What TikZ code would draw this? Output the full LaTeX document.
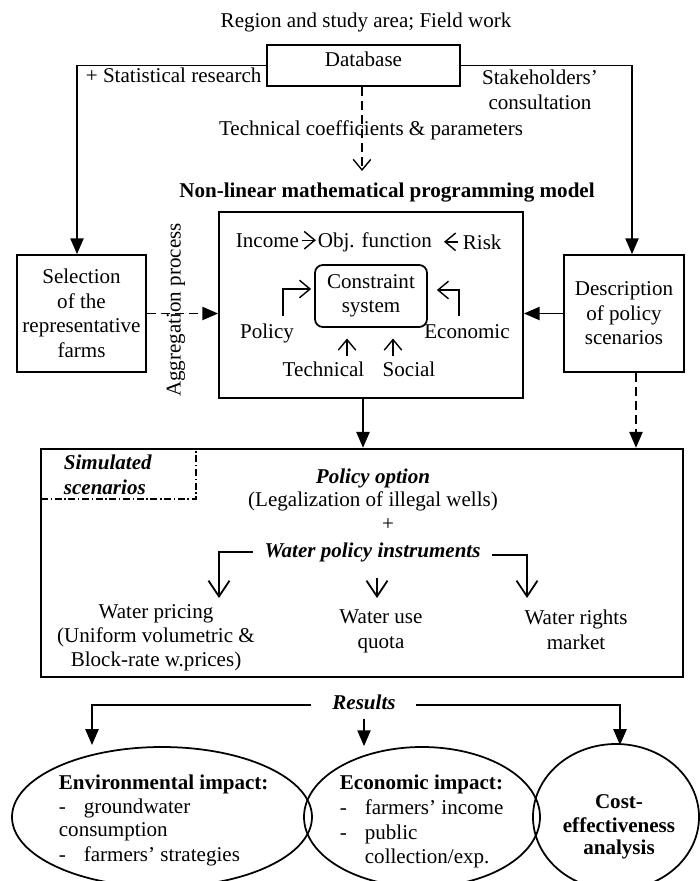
\documentclass[tikz,border=0pt]{standalone}
\usepackage{fontspec}
\setmainfont{Liberation Serif}
\usetikzlibrary{arrows.meta,shapes.geometric}
\newcommand\pxu{0.57pt}
\newcommand\basefont{\fontsize{12}{14}\selectfont}
\begin{document}
\begin{tikzpicture}[x=0.57pt, y={(0pt,-0.57pt)}, font=\basefont, line width=1pt,
  box/.style={draw, line width=1pt, inner sep=0pt, align=center, font=\basefont},
  txt/.style={inner sep=0pt, anchor=base, font=\basefont},
  txtl/.style={inner sep=0pt, anchor=base west, font=\basefont},
  bold/.style={font=\basefont\bfseries},
  bi/.style={font=\basefont\bfseries\itshape},
  farr/.style={-{Triangle[length=9pt,width=7.5pt]}, line width=1pt},
  oarr/.style={-{Straight Barb[length=6pt,width=10pt]}, line width=0.8pt},
  bigoarr/.style={-{Straight Barb[length=9pt,width=12pt]}, line width=1pt},
  dsh/.style={dash pattern=on 5pt off 3pt},
  ell/.style={draw, ellipse, inner sep=0pt, line width=1pt},
]
\clip (0,0) rectangle (700,881);

% top
\node[txt] (title) at (366,27) {Region and study area; Field work};
\node[box, minimum width=193*\pxu, minimum height=41*\pxu] (db) at (363.5,65.5) {};
\node[txt] (dbt) at (363.5,66) {Database};
\node[txtl] (stat) at (85,82) {+ Statistical research};
\node[inner sep=0pt, align=center, font=\basefont] (stake) at (540,90) {Stakeholders’\\consultation};
\node[txt] (tc) at (371,135) {Technical coefficients \& parameters};
\coordinate (tcend) at (362,171);
\draw[oarr, dsh] (db.south -| tcend) -- (tcend);

\node[txt, bold] (nl) at (387,197) {Non-linear mathematical programming model};

% side boxes
\node[box, minimum width=129*\pxu, minimum height=117*\pxu] (sel) at (81.5,313.5) {Selection\\of the\\representative\\farms};
\node[box, minimum width=120*\pxu, minimum height=117*\pxu] (desc) at (624,313.5) {Description\\of policy\\scenarios};

% model
\node[box, minimum width=304*\pxu, minimum height=186*\pxu] (model) at (371,305) {};
\node[box, rounded corners=4.5pt, minimum width=112*\pxu, minimum height=62*\pxu] (cons) at (371,296) {Constraint\\system};
\node[txtl] (inc) at (235,247) {Income};
\node[txtl] (obj) at (317,247) {Obj. function};
\node[txtl] (risk) at (462,249) {Risk};
\draw[oarr] ([xshift=2*\pxu]inc.east) -- ++(14,0);
\draw[oarr] ([xshift=-4*\pxu]risk.west) -- ++(-14,0);

\node[txt] (pol) at (267,338) {Policy};
\node[txt] (eco) at (467,338) {Economic};
\node[txt] (tec) at (323.5,376) {Technical};
\node[txt] (soc) at (409,376) {Social};
\coordinate (polA) at (283,316);
\coordinate (ecoA) at (459,316);
\draw[oarr] (polA) |- ([xshift=-3*\pxu, yshift=7*\pxu]cons.west);
\draw[oarr] (ecoA) |- ([xshift=9*\pxu, yshift=6*\pxu]cons.east);
\draw[oarr] ([xshift=23.5*\pxu, yshift=5*\pxu]tec.north) -- ++(0,-17);
\draw[oarr] ([xshift=-16*\pxu, yshift=5*\pxu]soc.north) -- ++(0,-17);

\node[txt, rotate=90, anchor=center] (agg) at (176,310) {Aggregation process};

% connectors top
\draw[farr] (db.west) -| ([xshift=-4.5*\pxu]sel.north);
\draw[farr] (db.east) -| ([xshift=8*\pxu]desc.north);
\draw[farr, dsh] (sel.east) -- (sel.east -| model.west);
\draw[farr] (desc.west) -- (desc.west -| model.east);

% simulated scenarios
\node[box, line width=1.4pt, minimum width=642*\pxu, minimum height=228*\pxu] (sim) at (362,563) {};
\node[draw, line width=0.6pt, dash pattern=on 4pt off 1.5pt on 0.8pt off 1.5pt, inner sep=0pt,
      minimum width=155*\pxu, minimum height=50*\pxu] (simlab) at (118.5,474) {};
\node[txtl, bi] (sim1) at (63,469) {Simulated};
\node[txtl, bi] (sim2) at (63,494) {scenarios};

\coordinate (ms) at ([xshift=-8*\pxu]model.south);
\coordinate (ds) at ([xshift=12*\pxu]desc.south);
\draw[farr] (ms) -- (ms |- sim.north);
\draw[farr, dsh] (ds) -- (ds |- sim.north);

\node[txt, bi] (po) at (373,483) {Policy option};
\node[txt] (leg) at (373,506) {(Legalization of illegal wells)};
\node[txt] (plus) at (388,530) {+};
\node[txt, bi] (wpi) at (372.5,557) {Water policy instruments};

\coordinate (wl) at (219,598);
\coordinate (wm0) at (377,578);
\coordinate (wm) at (377,598);
\coordinate (wr) at (527,598);
\draw[bigoarr] ([xshift=-11*\pxu]wpi.west) -| (wl);
\draw[bigoarr] ([xshift=11*\pxu, yshift=-3*\pxu]wpi.east) -| (wr);
\draw[bigoarr] (wm0) -- (wm);

\node[txt] (wp1) at (156,618) {Water pricing};
\node[txt] (wp2) at (156,642) {(Uniform volumetric \&};
\node[txt] (wp3) at (156,666) {Block-rate w.prices)};
\node[txt] (wu1) at (381,623) {Water use};
\node[txt] (wu2) at (381,648) {quota};
\node[txt] (wr1) at (576,624) {Water rights};
\node[txt] (wr2) at (576,649) {market};

% results
\node[txt, bi] (res) at (364,709) {Results};
\node[ell, minimum width=300*\pxu, minimum height=140*\pxu] (env) at (162,817) {};
\node[ell, minimum width=236*\pxu, minimum height=140*\pxu] (econ) at (422,817) {};
\node[ell, minimum width=166*\pxu, minimum height=146*\pxu] (cost) at (616,817) {};
\coordinate (rL) at (92,745);
\coordinate (rR) at (620,745);
\draw[farr] ([xshift=-21*\pxu, yshift=-3*\pxu]res.west) -| (rL);
\draw[farr] ([xshift=20*\pxu, yshift=-3*\pxu]res.east) -| (rR);
\draw[farr] ([yshift=-9*\pxu]res.south) -- (res.south |- econ.north);

\node[txtl, bold] (env1) at (58,789) {Environmental impact:};
\node[txtl] (env2) at (58,813) {\makebox[14.25pt][l]{-}groundwater};
\node[txtl] (env3) at (58,836) {consumption};
\node[txtl] (env4) at (58,861) {\makebox[14.25pt][l]{-}farmers’ strategies};

\node[txtl, bold] (ec1) at (339,789) {Economic impact:};
\node[txtl] (ec2) at (339,814) {\makebox[14.25pt][l]{-}farmers’ income};
\node[txtl] (ec3) at (339,839) {\makebox[14.25pt][l]{-}public};
\node[txtl] (ec4) at (364,863) {collection/exp.};

\node[txt, bold] (c1) at (619,808) {Cost-};
\node[txt, bold] (c2) at (619,832) {effectiveness};
\node[txt, bold] (c3) at (619,854) {analysis};
\end{tikzpicture}
\end{document}
